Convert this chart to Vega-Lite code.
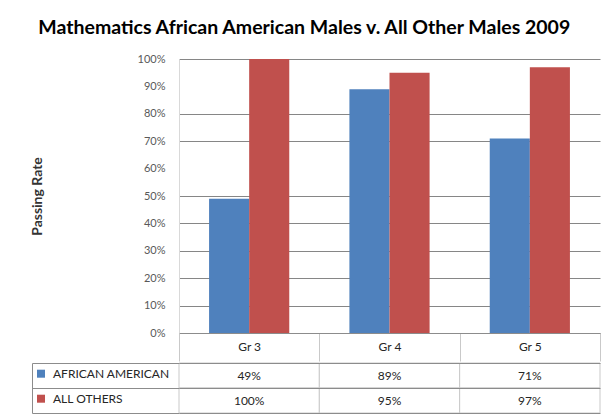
{
  "$schema": "https://vega.github.io/schema/vega-lite/v6.json",
  "padding": {"left": 30, "top": 17, "right": 0, "bottom": 0},
  "background": "white",
  "title": {
    "text": "Mathematics African American Males v. All Other Males 2009",
    "font": "Lato", "fontSize": 19.5, "fontWeight": "bold", "color": "#000000",
    "anchor": "middle", "offset": 15, "dx": -11
  },
  "config": {"view": {"stroke": null}, "font": "Lato"},
  "datasets": {
    "scores": [
      {"grade": "Gr 3", "group": "AFRICAN AMERICAN", "rate": 0.49},
      {"grade": "Gr 4", "group": "AFRICAN AMERICAN", "rate": 0.89},
      {"grade": "Gr 5", "group": "AFRICAN AMERICAN", "rate": 0.71},
      {"grade": "Gr 3", "group": "ALL OTHERS", "rate": 1.0},
      {"grade": "Gr 4", "group": "ALL OTHERS", "rate": 0.95},
      {"grade": "Gr 5", "group": "ALL OTHERS", "rate": 0.97}
    ]
  },
  "spacing": 0,
  "resolve": {"scale": {"x": "independent", "y": "independent"}},
  "vconcat": [
    {
      "width": 421,
      "height": 274,
      "data": {"name": "scores"},
      "mark": {"type": "bar"},
      "encoding": {
        "x": {
          "field": "grade", "type": "nominal", "sort": ["Gr 3", "Gr 4", "Gr 5"],
          "scale": {"paddingInner": 0, "paddingOuter": 0},
          "axis": {
            "title": null, "labelAngle": 0, "tickBand": "extent", "tickSize": 28,
            "tickColor": "#c9c9c9", "domainColor": "#8c8c8c", "labelPadding": -20,
            "labelFontSize": 12, "labelColor": "#262626", "labelFont": "Lato"
          }
        },
        "xOffset": {
          "field": "group", "type": "nominal", "sort": ["AFRICAN AMERICAN", "ALL OTHERS"],
          "scale": {"paddingInner": 0, "paddingOuter": 0.75}
        },
        "y": {
          "field": "rate", "type": "quantitative",
          "scale": {"domain": [0, 1]},
          "axis": {
            "title": "Passing Rate", "format": ".0%",
            "values": [0, 0.1, 0.2, 0.3, 0.4, 0.5, 0.6, 0.7, 0.8, 0.9, 1],
            "ticks": false, "tickSize": 0, "labelPadding": 14, "labelFontSize": 11,
            "labelColor": "#595959", "labelFont": "Lato",
            "minExtent": 100, "maxExtent": 100, "titlePadding": 35,
            "titleFont": "Lato", "titleFontSize": 14, "titleFontWeight": "bold", "titleColor": "#333333",
            "domainColor": "#d9d9d9", "gridColor": "#868686",
            "gridOpacity": {"condition": {"test": "datum.value == 0.6 || datum.value == 0.9", "value": 0}, "value": 1}
          }
        },
        "color": {
          "field": "group", "type": "nominal",
          "scale": {"domain": ["AFRICAN AMERICAN", "ALL OTHERS"], "range": ["#4F81BD", "#C0504D"]},
          "legend": {
            "orient": "none", "legendX": -144, "legendY": 308.7, "title": null,
            "direction": "vertical", "symbolType": "square", "symbolSize": 64,
            "symbolStrokeWidth": 0, "labelFontSize": 12, "labelFont": "Lato",
            "labelColor": "#262626", "labelOffset": 6, "rowPadding": 13, "padding": 0
          }
        }
      }
    },
    {
      "width": 421,
      "height": 50,
      "data": {"name": "scores"},
      "encoding": {
        "x": {
          "field": "grade", "type": "nominal", "sort": ["Gr 3", "Gr 4", "Gr 5"],
          "scale": {"paddingInner": 0, "paddingOuter": 0}, "axis": null
        },
        "y": {
          "field": "group", "type": "nominal", "sort": ["AFRICAN AMERICAN", "ALL OTHERS"],
          "scale": {"paddingInner": 0, "paddingOuter": 0},
          "axis": {
            "title": null, "labels": false, "grid": true, "gridColor": "#8c8c8c",
            "offset": 147, "zindex": 1,
            "domain": true, "domainColor": "#8c8c8c", "ticks": true,
            "tickBand": "extent", "tickSize": -147, "tickColor": "#8c8c8c"
          }
        }
      },
      "layer": [
        {"mark": {"type": "rect", "fill": "white", "stroke": "#c9c9c9", "strokeWidth": 1}},
        {
          "mark": {"type": "text", "fontSize": 12, "color": "#262626", "font": "Lato"},
          "encoding": {"text": {"field": "rate", "type": "quantitative", "format": ".0%"}}
        }
      ]
    }
  ]
}
